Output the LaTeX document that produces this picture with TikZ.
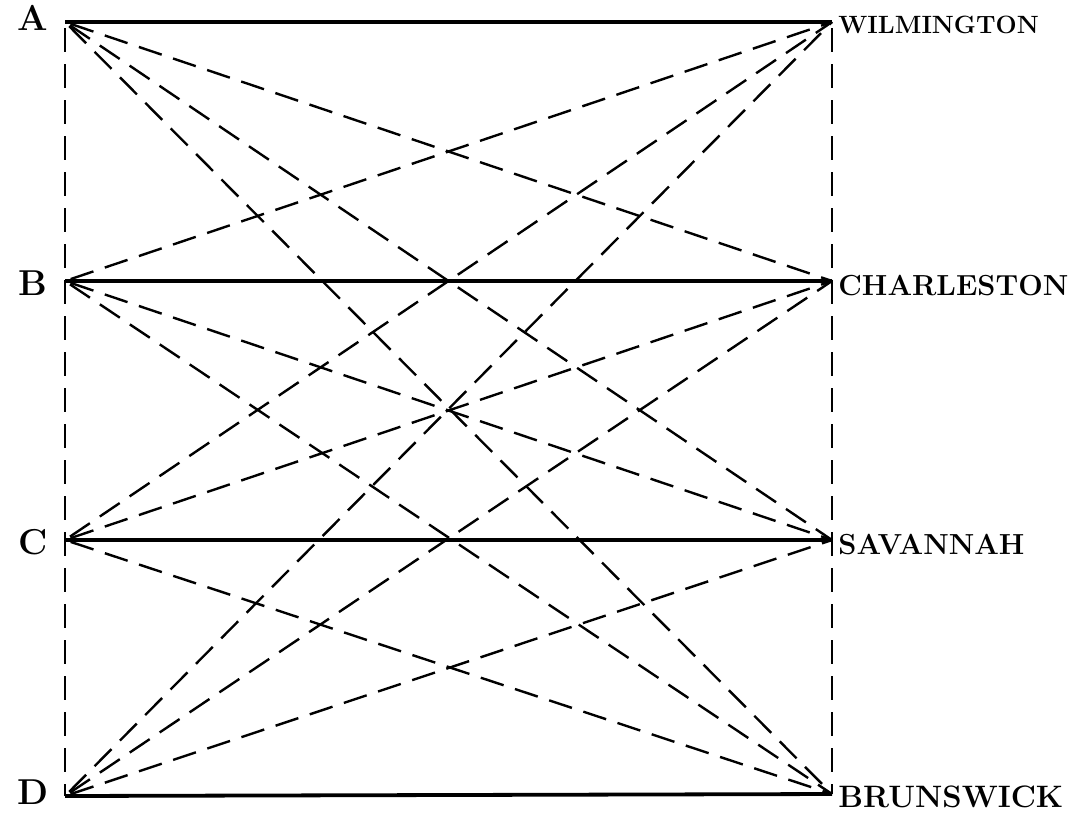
\documentclass[tikz,border=0pt]{standalone}
\usepackage{amsmath}
\usepackage{tikz}

\begin{document}
\begin{tikzpicture}
            [x=1pt,y=-1pt,thick,
            every node/.style={inner sep=0pt},
            road/.style={line width=3.8pt},
            route/.style={line width=2.4pt, dash pattern=on 24pt off 12pt, dash phase=30pt},
            port/.style={font=\fontsize{36}{36}\selectfont\bfseries},
            city/.style={font=\fontsize{#1}{#1}\selectfont\bfseries, anchor=west},
            city/.default=29]
            \useasboundingbox (0,0) rectangle (1070,812);
            \coordinate (A) at (65,22);
            \coordinate (B) at (65,281);
            \coordinate (C) at (65,540);
            \coordinate (D) at (65,796);
            \coordinate (W) at (832,22);
            \coordinate (Ch) at (832,281);
            \coordinate (S) at (832,540);
            \coordinate (Br) at (832,794);
            \node[port] (lA) at (33,18) {A};
            \node[port] (lB) at (33,283) {B};
            \node[port] (lC) at (33,542) {C};
            \node[port] (lD) at (33,792) {D};
            \node[city=25] (lW) at (838,25) {WILMINGTON};
            \node[city] (lCh) at (838,286) {CHARLESTON};
            \node[city] (lS) at (838,545) {SAVANNAH};
            \node[city=31] (lBr) at (838,797) {BRUNSWICK};
            \draw[road] (A) -- (W);
            \draw[road] (B) -- (Ch);
            \draw[road] (C) -- (S);
            \draw[road] (D) -- (Br);
            \draw[route] (A) -- (D);
            \draw[route] (W) -- (Br);
            \draw[route] (A) -- (Ch);
            \draw[route] (A) -- (S);
            \draw[route] (A) -- (Br);
            \draw[route] (B) -- (W);
            \draw[route] (B) -- (S);
            \draw[route] (B) -- (Br);
            \draw[route] (C) -- (W);
            \draw[route] (C) -- (Ch);
            \draw[route] (C) -- (Br);
            \draw[route] (D) -- (W);
            \draw[route] (D) -- (Ch);
            \draw[route] (D) -- (S);
        \end{tikzpicture}
\end{document}
